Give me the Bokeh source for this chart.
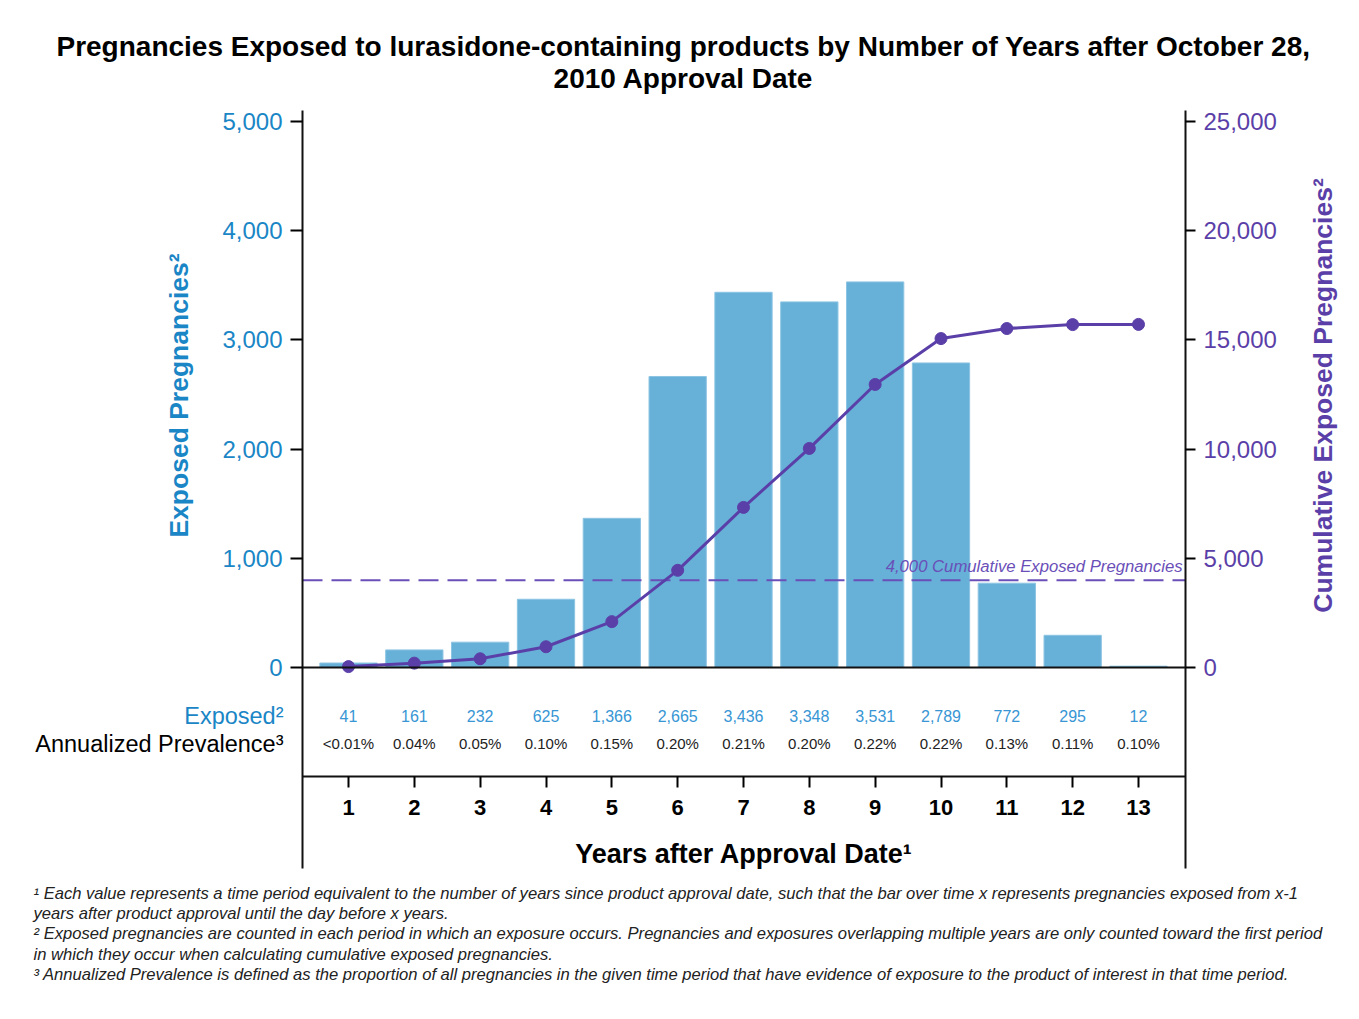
from bokeh.plotting import figure
from bokeh.models import (Range1d, LinearAxis, FixedTicker, NumeralTickFormatter,
                          Label, ColumnDataSource)
from bokeh.embed import file_html
from bokeh.resources import INLINE
from bokeh.core.properties import value
import math

# ---------------- data ----------------
years = [1, 2, 3, 4, 5, 6, 7, 8, 9, 10, 11, 12, 13]
exposed = [41, 161, 232, 625, 1366, 2665, 3436, 3348, 3531, 2789, 772, 295, 12]
exposed_labels = ["41", "161", "232", "625", "1,366", "2,665", "3,436", "3,348",
                  "3,531", "2,789", "772", "295", "12"]
prevalence_labels = ["<0.01%", "0.04%", "0.05%", "0.10%", "0.15%", "0.20%", "0.21%",
                     "0.20%", "0.22%", "0.22%", "0.13%", "0.11%", "0.10%"]
cumulative = [41, 200, 400, 950, 2100, 4450, 7330, 10030, 12960, 15060, 15520, 15700, 15710]
left_ticks = [0, 1000, 2000, 3000, 4000, 5000]
right_ticks = [0, 5000, 10000, 15000, 20000, 25000]
threshold = 4000

title_lines = ["Pregnancies Exposed to lurasidone-containing products by Number of Years after October 28,",
               "2010 Approval Date"]
footnotes = [
    "\u00b9 Each value represents a time period equivalent to the number of years since product approval date, such that the bar over time x represents pregnancies exposed from x-1",
    "years after product approval until the day before x years.",
    "\u00b2 Exposed pregnancies are counted in each period in which an exposure occurs. Pregnancies and exposures overlapping multiple years are only counted toward the first period",
    "in which they occur when calculating cumulative exposed pregnancies.",
    "\u00b3 Annualized Prevalence is defined as the proportion of all pregnancies in the given time period that have evidence of exposure to the product of interest in that time period.",
]

# ---------------- geometry (canvas pixels) ----------------
FONT = "Liberation Sans"
BLUE = "#1a86c6"
BLUE_LIGHT = "#3896d4"
BAR = "#67b0d7"
PURPLE = "#5b3fa8"
W, H = 1350, 1010
FL, FR, FT, FB = 302, 1185, 110, 868     # plot box edges
UX = 12.0 / (1138 - 348)                 # data units per pixel (x)
PX_PER_UNIT = 546.0 / 5000.0             # pixels per data unit (y)
ZERO_PY = 667
SCALE_R = 5.0


def px_x(px):
    return 1 + (px - 348) * UX


def py_y(py):
    return (ZERO_PY - py) / PX_PER_UNIT


XA, XB = px_x(FL), px_x(FR)
YA, YB = py_y(FB), py_y(FT)

p = figure(width=W, height=H, output_backend="svg", toolbar_location=None, title=None,
           x_range=Range1d(px_x(0), px_x(W)), y_range=Range1d(py_y(H), py_y(0)),
           min_border=0, min_border_left=0, min_border_right=0,
           min_border_top=0, min_border_bottom=0,
           outline_line_color=None, background_fill_color="white",
           border_fill_color="white")
p.extra_y_ranges = {"cum": Range1d(py_y(H) * SCALE_R, py_y(0) * SCALE_R)}
p.xgrid.visible = False
p.ygrid.visible = False

# left axis
ya = p.yaxis[0]
ya.fixed_location = XA
ya.bounds = (YA, YB)
ya.ticker = FixedTicker(ticks=left_ticks)
ya.formatter = NumeralTickFormatter(format="0,0")
ya.major_label_text_color = BLUE
ya.major_label_text_font = FONT
ya.major_label_text_font_size = "24px"
ya.major_tick_in = 0
ya.major_tick_out = 12
ya.major_tick_line_width = 2
ya.major_tick_line_color = "black"
ya.minor_tick_line_color = None
ya.axis_line_width = 2
ya.axis_line_color = "#111111"
ya.major_label_standoff = 8

# right axis
ra = LinearAxis(y_range_name="cum", ticker=FixedTicker(ticks=right_ticks),
                formatter=NumeralTickFormatter(format="0,0"),
                fixed_location=XB, bounds=(YA * SCALE_R, YB * SCALE_R))
ra.major_label_text_color = PURPLE
ra.major_label_text_font = FONT
ra.major_label_text_font_size = "24px"
ra.major_tick_in = 0
ra.major_tick_out = 10
ra.major_tick_line_width = 2
ra.minor_tick_line_color = None
ra.axis_line_width = 2
ra.axis_line_color = "#111111"
ra.major_label_standoff = 8
p.add_layout(ra, "right")

# x axis placed below the table
xa = p.xaxis[0]
xa.ticker = FixedTicker(ticks=years)
xa.fixed_location = py_y(776)
xa.bounds = (XA, XB)
xa.major_label_text_font = FONT
xa.major_label_text_font_style = "bold"
xa.major_label_text_font_size = "22px"
xa.major_label_text_color = "black"
xa.major_tick_in = 0
xa.major_tick_out = 11
xa.major_tick_line_width = 2
xa.minor_tick_line_color = None
xa.axis_line_width = 2
xa.axis_line_color = "#111111"
xa.major_label_standoff = 12
xa.axis_label = "Years after Approval Date\u00b9"
xa.axis_label_text_font = FONT
xa.axis_label_text_font_style = "bold"
xa.axis_label_text_font_size = "27px"
xa.axis_label_text_color = "black"
xa.axis_label_standoff = 21

# zero baseline as an axis without ticks
za = LinearAxis(fixed_location=0, bounds=(XA, XB), ticker=FixedTicker(ticks=[]),
                major_label_text_font_size="0px", axis_line_width=2,
                axis_line_color="#111111", major_tick_line_color=None,
                minor_tick_line_color=None)
p.add_layout(za, "below")

# bars
src = ColumnDataSource(dict(x=years, top=exposed, cum=cumulative,
                            el=exposed_labels, pl=prevalence_labels))
p.vbar(x="x", top="top", bottom=0, width=0.87, source=src,
       fill_color=BAR, line_color="#8cc4e3", line_width=1, level="underlay")

# threshold line
p.segment(x0=[XA], x1=[XB], y0=[threshold], y1=[threshold], y_range_name="cum",
          line_color="#6a4fb8", line_width=2, line_dash="20 9")
p.add_layout(Label(x=px_x(1182), y=threshold, y_range_name="cum",
                   text="4,000 Cumulative Exposed Pregnancies", text_align="right",
                   text_baseline="bottom", y_offset=4, text_font=FONT,
                   text_font_style="italic", text_font_size="16.7px",
                   text_color="#6a4fb8"))

# cumulative line
p.line(x="x", y="cum", source=src, y_range_name="cum", line_color=PURPLE, line_width=3)
p.scatter(x="x", y="cum", source=src, y_range_name="cum", size=12,
          fill_color=PURPLE, line_color=PURPLE)

# table rows
p.text(x="x", y=py_y(715), text="el", source=src, text_align="center",
       text_baseline="middle", text_font=value(FONT), text_font_size="16px",
       text_color=BLUE_LIGHT)
p.text(x="x", y=py_y(743), text="pl", source=src, text_align="center",
       text_baseline="middle", text_font=value(FONT), text_font_size="15px",
       text_color="#222222")
p.add_layout(Label(x=px_x(283), y=py_y(715), text="Exposed\u00b2", text_align="right",
                   text_baseline="middle", text_font=FONT, text_font_size="23.5px",
                   text_color=BLUE))
p.add_layout(Label(x=px_x(283), y=py_y(743), text="Annualized Prevalence\u00b3",
                   text_align="right", text_baseline="middle", text_font=FONT,
                   text_font_size="23.5px", text_color="black"))

# axis titles
p.add_layout(Label(x=px_x(178), y=py_y(395), text="Exposed Pregnancies\u00b2",
                   angle=math.pi / 2, text_align="center", text_baseline="middle",
                   text_font=FONT, text_font_style="bold", text_font_size="26.5px",
                   text_color=BLUE))
p.add_layout(Label(x=px_x(1322), y=py_y(395), text="Cumulative Exposed Pregnancies\u00b2",
                   angle=math.pi / 2, text_align="center", text_baseline="middle",
                   text_font=FONT, text_font_style="bold", text_font_size="26.5px",
                   text_color=PURPLE))

# title
for i, t in enumerate(title_lines):
    p.add_layout(Label(x=px_x(683), y=py_y(46 + 32 * i), text=t, text_align="center",
                       text_baseline="middle", text_font=FONT, text_font_style="bold",
                       text_font_size="28px", text_color="black"))

# footnotes
for i, t in enumerate(footnotes):
    p.add_layout(Label(x=px_x(33), y=py_y(893 + 20.2 * i), text=t, text_align="left",
                       text_baseline="middle", text_font=FONT, text_font_style="italic",
                       text_font_size="16.6px", text_color="#222222"))

open("out.html", "w").write(file_html(p, INLINE))
